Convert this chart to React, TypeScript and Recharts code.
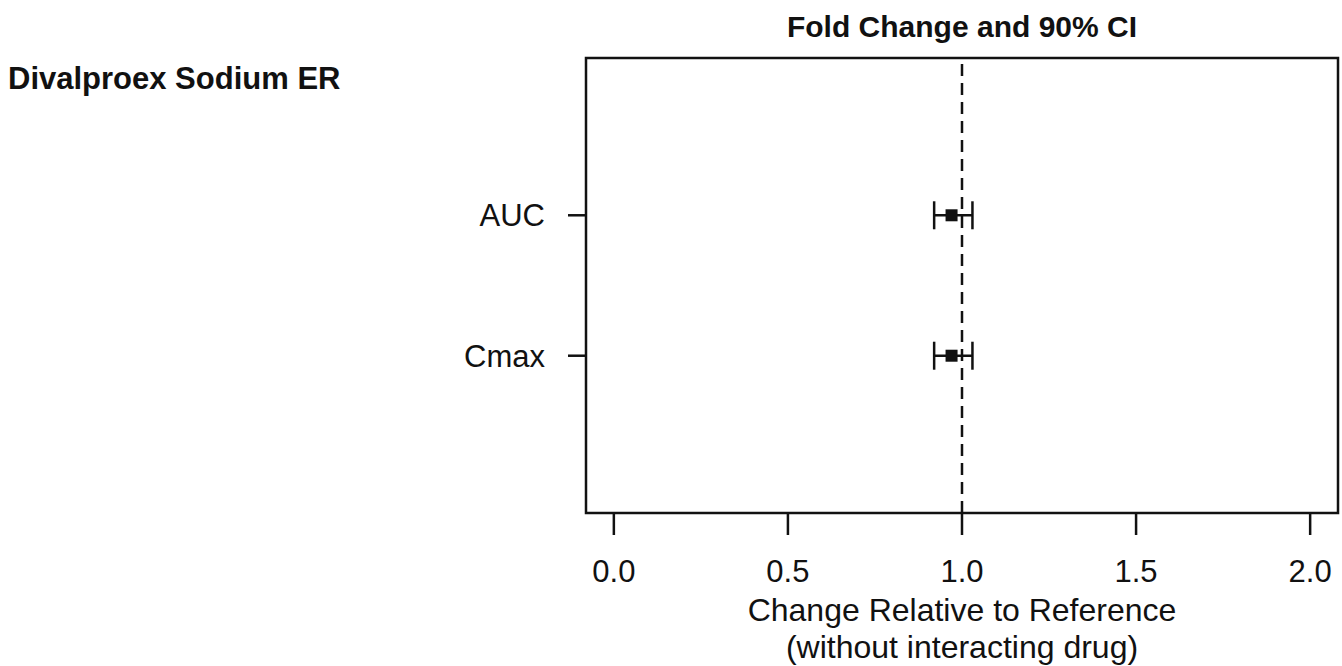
import {
  ErrorBar,
  ReferenceArea,
  ReferenceLine,
  Scatter,
  ScatterChart,
  XAxis,
  YAxis,
} from "recharts";

const measures = ["AUC", "Cmax"];
const rowPositions = [2, 1];
const foldChange = [0.97, 0.97];
const ciLower = [0.92, 0.92];
const ciUpper = [1.03, 1.03];
const xTicks = [0, 0.5, 1, 1.5, 2];
const yTicks = [1, 2];

const data = measures.map((name, i) => ({
  name,
  row: rowPositions[i],
  fold: foldChange[i],
  ci: [foldChange[i] - ciLower[i], ciUpper[i] - foldChange[i]],
}));

const font = "'Liberation Sans', Arial, sans-serif";
const ink = "#111";

const SquarePoint = (props: any) => {
  const { cx, cy } = props;
  return <rect x={cx - 6} y={cy - 6} width={12} height={12} fill={ink} />;
};

const AxisTitle = (props: any) => {
  const { viewBox } = props;
  const cx = viewBox.x + viewBox.width / 2;
  return (
    <g fontFamily={font} fontSize={32} fill={ink} textAnchor="middle">
      <text x={cx} y={621}>
        Change Relative to Reference
      </text>
      <text x={cx} y={658}>
        (without interacting drug)
      </text>
    </g>
  );
};

export default function App() {
  return (
    <div style={{ position: "absolute", left: 0, top: 0, width: 1342, height: 666, background: "#fff" }}>
      <ScatterChart
        width={1342}
        height={666}
        margin={{ top: 58, right: 4, bottom: 0, left: 0 }}
      >
        <XAxis
          type="number"
          dataKey="fold"
          domain={[-0.08, 2.08]}
          ticks={xTicks}
          allowDataOverflow
          tickFormatter={(v: number) => v.toFixed(1)}
          height={153}
          axisLine={false}
          tickSize={22}
          tickMargin={25}
          tickLine={{ stroke: ink, strokeWidth: 2.5 }}
          tick={{ fontFamily: font, fontSize: 31, fill: ink }}
          label={<AxisTitle />}
        />
        <YAxis
          type="number"
          dataKey="row"
          domain={[-0.12, 3.12]}
          ticks={yTicks}
          allowDataOverflow
          tickFormatter={(v: number) => measures[rowPositions.indexOf(v)] ?? ""}
          width={586}
          axisLine={false}
          tickSize={18}
          tickMargin={23}
          tickLine={{ stroke: ink, strokeWidth: 2.5 }}
          tick={{ fontFamily: font, fontSize: 31, fill: ink }}
        />
        <ReferenceArea
          x1={-0.08}
          x2={2.08}
          y1={-0.12}
          y2={3.12}
          fill="none"
          fillOpacity={0}
          stroke={ink}
          strokeWidth={2.5}
          ifOverflow="visible"
        />
        <ReferenceLine x={1} stroke={ink} strokeWidth={2.5} strokeDasharray="12 7" />
        <Scatter data={data} shape={SquarePoint} isAnimationActive={false}>
          <ErrorBar
            dataKey="ci"
            direction="x"
            width={14}
            stroke={ink}
            strokeWidth={2.5}
            isAnimationActive={false}
          />
        </Scatter>
      </ScatterChart>
      <svg
        width={1342}
        height={666}
        style={{ position: "absolute", left: 0, top: 0, pointerEvents: "none" }}
      >
        <text x={962} y={37} textAnchor="middle" fontFamily={font} fontWeight="bold" fontSize={30} fill={ink}>
          Fold Change and 90% CI
        </text>
        <text x={8} y={89} fontFamily={font} fontWeight="bold" fontSize={31} fill={ink}>
          Divalproex Sodium ER
        </text>
      </svg>
    </div>
  );
}
